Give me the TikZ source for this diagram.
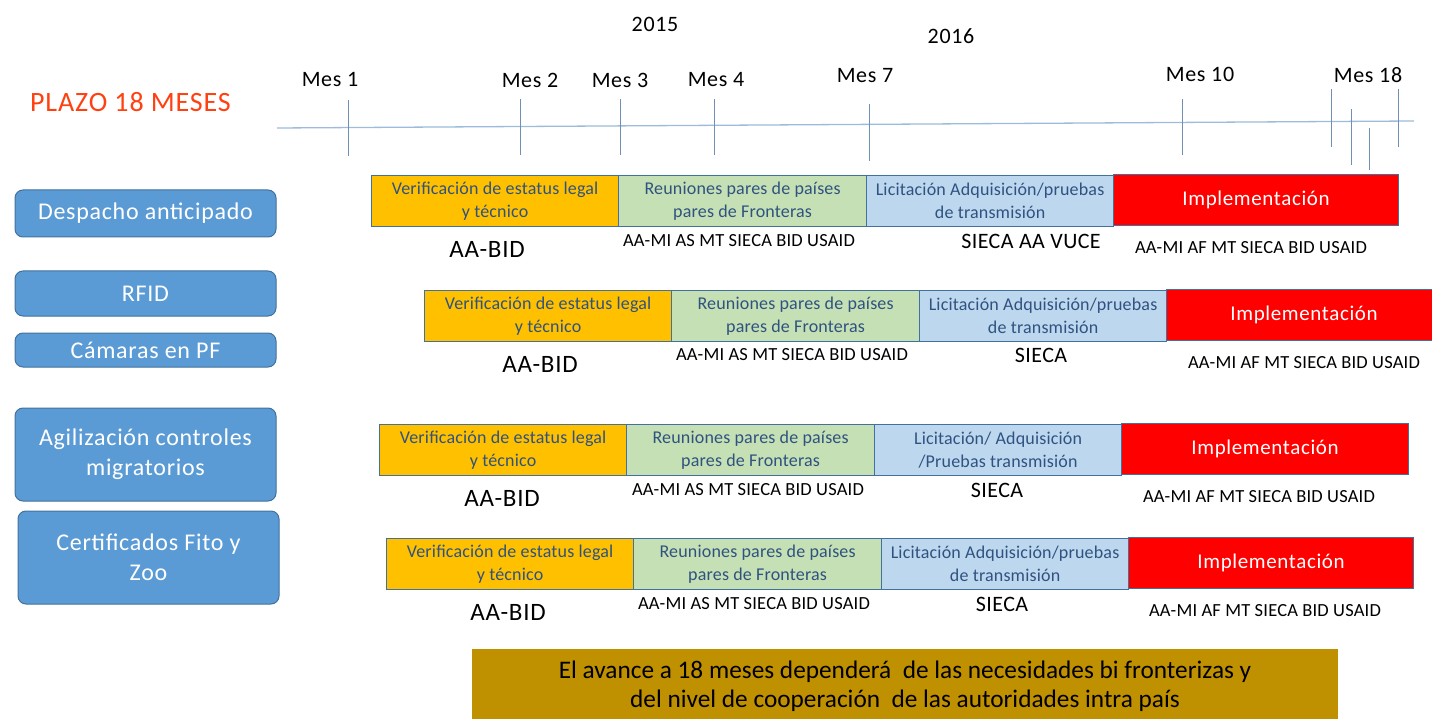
\documentclass[tikz,border=0pt]{standalone}
\usepackage{fontspec}
\setmainfont{Carlito}[LetterSpace=3]
\definecolor{boxblue}{HTML}{5B9BD5}
\definecolor{boxedge}{HTML}{41719C}
\definecolor{baror}{HTML}{FFC000}
\definecolor{bargr}{HTML}{C5E0B4}
\definecolor{barbl}{HTML}{BDD7EE}
\definecolor{barrd}{HTML}{FF0000}
\definecolor{bartxt}{HTML}{2F5280}
\definecolor{tline}{HTML}{9DBBDA}
\definecolor{ttick}{HTML}{6F8FB5}
\definecolor{plazo}{HTML}{FF4010}
\definecolor{note}{HTML}{BF9000}
\tikzset{
  lbox/.style={draw=boxedge, line width=1pt, fill=boxblue, rounded corners=8pt, text=white, font=\fontsize{24}{30}\selectfont, align=center, inner sep=0pt},
  barbox/.style={draw=boxedge, line width=1.2pt, inner sep=0pt, align=center, text=bartxt, font=\fontsize{18}{23}\selectfont\addfontfeatures{LetterSpace=1}, minimum height=51pt, anchor=north west},
  implbox/.style={barbox, fill=barrd, text=white, font=\fontsize{21}{24}\selectfont},
  agent/.style={font=\fontsize{18.5}{21}\selectfont\addfontfeatures{LetterSpace=1}, inner sep=0pt},
  agentb/.style={font=\fontsize{25}{28}\selectfont, inner sep=0pt},
  agentc/.style={font=\fontsize{22}{26}\selectfont\addfontfeatures{LetterSpace=2}, inner sep=0pt},
  mes/.style={font=\fontsize{22}{26}\selectfont, inner sep=0pt},
  tick/.style={draw=ttick, line width=1pt}
}
\newcommand{\barrowx}[5]{% name, x0, ytop, red width, blue text
  \node[barbox, fill=baror, minimum width=247pt] (#1a) at (#2,#3) {Verificación de estatus legal\\y técnico};
  \node[barbox, fill=bargr, minimum width=248pt] (#1b) at (#2+247,#3) {Reuniones pares de países\\pares de Fronteras};
  \node[barbox, fill=barbl, minimum width=247pt] (#1c) at (#2+495,#3) {#5};
  \node[implbox, minimum width=#4pt] (#1d) at (#2+742,#3-1) {\raisebox{-2pt}{Implementación}};
}
\begin{document}
\begin{tikzpicture}[x=1pt,y=-1pt]
\useasboundingbox (0,0) rectangle (1432,719);
% header
\node[mes] (y15) at (655,24) {2015};
\node[mes] (y16) at (951,36) {2016};
\node[font=\fontsize{28}{32}\selectfont, text=plazo, inner sep=0pt, anchor=west] (plz) at (30,102) {PLAZO 18 MESES};
% timeline
\coordinate (tl0) at (277,128);
\coordinate (tl1) at (1414,121);
\draw[draw=tline, line width=1.3pt] (tl0) -- (tl1);
\foreach \n/\x/\ya/\yb in {t1/348/100/156, t2/520/99/155, t3/620/99/155, t4/714/99/155, t7/869/104/161, t10/1182/99/155, ta/1331/89/147, tb/1351/109/165, tc/1369/128/170, td/1398/89/147}{
  \coordinate (\n u) at (\x,\ya);
  \coordinate (\n d) at (\x,\yb);
  \draw[tick] (\n u) -- (\n d);
}
\node[mes] (m1) at (330,80) {Mes 1};
\node[mes] (m2) at (530,80) {Mes 2};
\node[mes] (m3) at (620,80) {Mes 3};
\node[mes] (m4) at (716,80) {Mes 4};
\node[mes] (m7) at (865,76) {Mes 7};
\node[mes] (m10) at (1200,74) {Mes 10};
\node[mes] (m18) at (1368,75) {Mes 18};
% left boxes
\node[lbox, minimum width=261pt, minimum height=47pt] (b1) at (145.5,213.5) {Despacho anticipado};
\node[lbox, minimum width=261pt, minimum height=45pt] (b2) at (145.5,293.5) {RFID};
\node[lbox, minimum width=261pt, minimum height=34pt] (b3) at (145.5,350) {Cámaras en PF};
\node[lbox, minimum width=261pt, minimum height=93pt] (b4) at (145.5,454.5) {Agilización controles\\migratorios};
\node[lbox, minimum width=261pt, minimum height=93pt] (b5) at (148.5,557.5) {Certificados Fito y\\Zoo};
% rows
\barrowx{r1}{371}{175}{285}{Licitación Adquisición/pruebas\\de transmisión}
\barrowx{r2}{424}{290}{275}{Licitación Adquisición/pruebas\\de transmisión}
\barrowx{r3}{379}{424}{287}{Licitación/ Adquisición\\/Pruebas transmisión}
\barrowx{r4}{386}{538}{285}{Licitación Adquisición/pruebas\\de transmisión}
% labels
\node[agentb] (r1la) at (487,249) {AA-BID};
\node[agent] (r1lb) at (739,241) {AA-MI AS MT SIECA BID USAID};
\node[agentc] (r1lc) at (1031,241) {SIECA AA VUCE};
\node[agent] (r1ld) at (1251,248) {AA-MI AF MT SIECA BID USAID};
\node[agentb] (r2la) at (540,364) {AA-BID};
\node[agent] (r2lb) at (792,355) {AA-MI AS MT SIECA BID USAID};
\node[agentc] (r2lc) at (1041,355) {SIECA};
\node[agent] (r2ld) at (1304,363) {AA-MI AF MT SIECA BID USAID};
\node[agentb] (r3la) at (502,498) {AA-BID};
\node[agent] (r3lb) at (748,490) {AA-MI AS MT SIECA BID USAID};
\node[agentc] (r3lc) at (997,490) {SIECA};
\node[agent] (r3ld) at (1259,497) {AA-MI AF MT SIECA BID USAID};
\node[agentb] (r4la) at (508,612) {AA-BID};
\node[agent] (r4lb) at (754,604) {AA-MI AS MT SIECA BID USAID};
\node[agentc] (r4lc) at (1002,604) {SIECA};
\node[agent] (r4ld) at (1265,611) {AA-MI AF MT SIECA BID USAID};
% note
\node[fill=note, minimum width=866pt, minimum height=72pt, anchor=north west, inner sep=0pt] (nt) at (472,649) {};
\node[font=\fontsize{25.3}{29}\selectfont\addfontfeatures{LetterSpace=0}, align=center, inner sep=0pt] (ntx) at (905,686) {El avance a 18 meses dependerá \ de las necesidades bi fronterizas y\\del nivel de cooperación \ de las autoridades intra país};
\end{tikzpicture}
\end{document}
